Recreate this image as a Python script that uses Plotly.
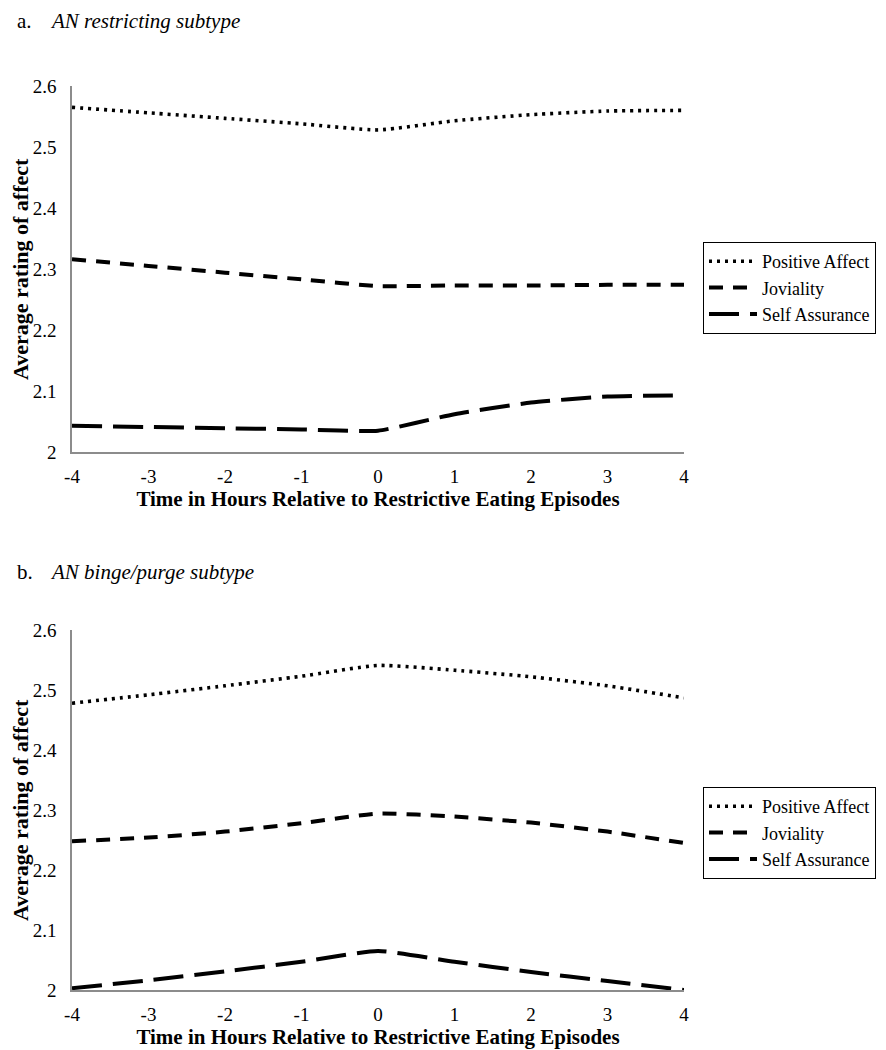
import plotly.graph_objects as go

hours = [-4, -3, -2, -1, 0, 1, 2, 3, 4]
x_tick_labels = ["-4", "-3", "-2", "-1", "0", "1", "2", "3", "4"]
y_tick_vals = [2.0, 2.1, 2.2, 2.3, 2.4, 2.5, 2.6]
y_tick_labels = ["2", "2.1", "2.2", "2.3", "2.4", "2.5", "2.6"]
series_names = ["Positive Affect", "Joviality", "Self Assurance"]

# a. AN restricting subtype
r_positive = [2.565, 2.556, 2.547, 2.538, 2.528, 2.543, 2.553, 2.559, 2.560]
r_joviality = [2.316, 2.305, 2.294, 2.283, 2.272, 2.273, 2.273, 2.274, 2.274]
r_assurance = [2.043, 2.041, 2.039, 2.037, 2.035, 2.062, 2.081, 2.091, 2.093]

# b. AN binge/purge subtype
b_positive = [2.478, 2.492, 2.507, 2.523, 2.541, 2.533, 2.522, 2.507, 2.487]
b_joviality = [2.248, 2.254, 2.264, 2.278, 2.294, 2.289, 2.279, 2.264, 2.245]
b_assurance = [2.003, 2.016, 2.031, 2.047, 2.065, 2.047, 2.030, 2.015, 2.000]

W, H = 886, 1050
OFF = 8  # page body margin in the browser
FONT = "Liberation Serif, Times New Roman, serif"
dashes = ["3px,5px", "14px,10px", "30px,11px"]
widths = [3.6, 4.0, 4.0]

fig = go.Figure()

panels = [
    ("x", "y", "legend", [r_positive, r_joviality, r_assurance]),
    ("x2", "y2", "legend2", [b_positive, b_joviality, b_assurance]),
]
for xa, ya, lg, data in panels:
    for name, vals, d, w in zip(series_names, data, dashes, widths):
        fig.add_trace(go.Scatter(
            x=hours, y=vals, name=name, mode="lines",
            line=dict(color="black", dash=d, width=w, shape="spline", smoothing=0.5),
            xaxis=xa, yaxis=ya, legend=lg,
        ))

def py(pix):
    return 1 - (pix - OFF) / H

def px(pix):
    return (pix - OFF) / W

x_dom = [px(72), px(684)]
top_dom = (86, 452)
bot_dom = (630, 990)

axis_common = dict(
    showgrid=False, zeroline=False, showline=True, linecolor="#8c8c8c", linewidth=1.5,
    ticks="", automargin=False, tickfont=dict(family=FONT, size=19, color="black"),
)
xax = dict(axis_common, range=[-4, 4], tickvals=hours, ticktext=x_tick_labels,
           domain=x_dom, ticklabelstandoff=6,
           title=dict(text="<b>Time in Hours Relative to Restrictive Eating Episodes</b>",
                      font=dict(family=FONT, size=21, color="black"), standoff=6))
yax = dict(axis_common, range=[2.0, 2.6], tickvals=y_tick_vals, ticktext=y_tick_labels,
           ticklabelstandoff=10)

legend_common = dict(
    bordercolor="black", borderwidth=1, bgcolor="white",
    font=dict(family=FONT, size=18, color="black"),
    xanchor="left", yanchor="top", tracegroupgap=0, itemwidth=48,
)

title_y_a = 21
title_y_b = 572

def ann(text, x, y, size=21, angle=0):
    return dict(text=text, x=px(x), y=py(y), xref="paper", yref="paper", showarrow=False,
                xanchor="left" if angle == 0 else "center", yanchor="middle",
                textangle=angle, font=dict(family=FONT, size=size, color="black"))

ytitle = "<b>Average rating of affect</b>"

fig.update_layout(
    template="none",
    width=W, height=H, plot_bgcolor="white", paper_bgcolor="white",
    margin=dict(l=0, r=0, t=0, b=0, autoexpand=False),
    font=dict(family=FONT, color="black"),
    xaxis=dict(xax, anchor="y"),
    yaxis=dict(yax, domain=[py(top_dom[1]), py(top_dom[0])], anchor="x"),
    xaxis2=dict(xax, anchor="y2"),
    yaxis2=dict(yax, domain=[py(bot_dom[1]), py(bot_dom[0])], anchor="x2"),
    legend=dict(legend_common, x=px(703), y=py(242)),
    legend2=dict(legend_common, x=px(703), y=py(787)),
    showlegend=True,
    annotations=[
        ann("a.", 15, title_y_a),
        ann("<i>AN restricting subtype</i>", 48, title_y_a),
        ann("b.", 15, title_y_b),
        ann("<i>AN binge/purge subtype</i>", 48, title_y_b),
        ann(ytitle, 20, (top_dom[0] + top_dom[1]) / 2, size=22, angle=-90),
        ann(ytitle, 20, (bot_dom[0] + bot_dom[1]) / 2, size=22, angle=-90),
    ],
)

fig.write_html("out.html")
